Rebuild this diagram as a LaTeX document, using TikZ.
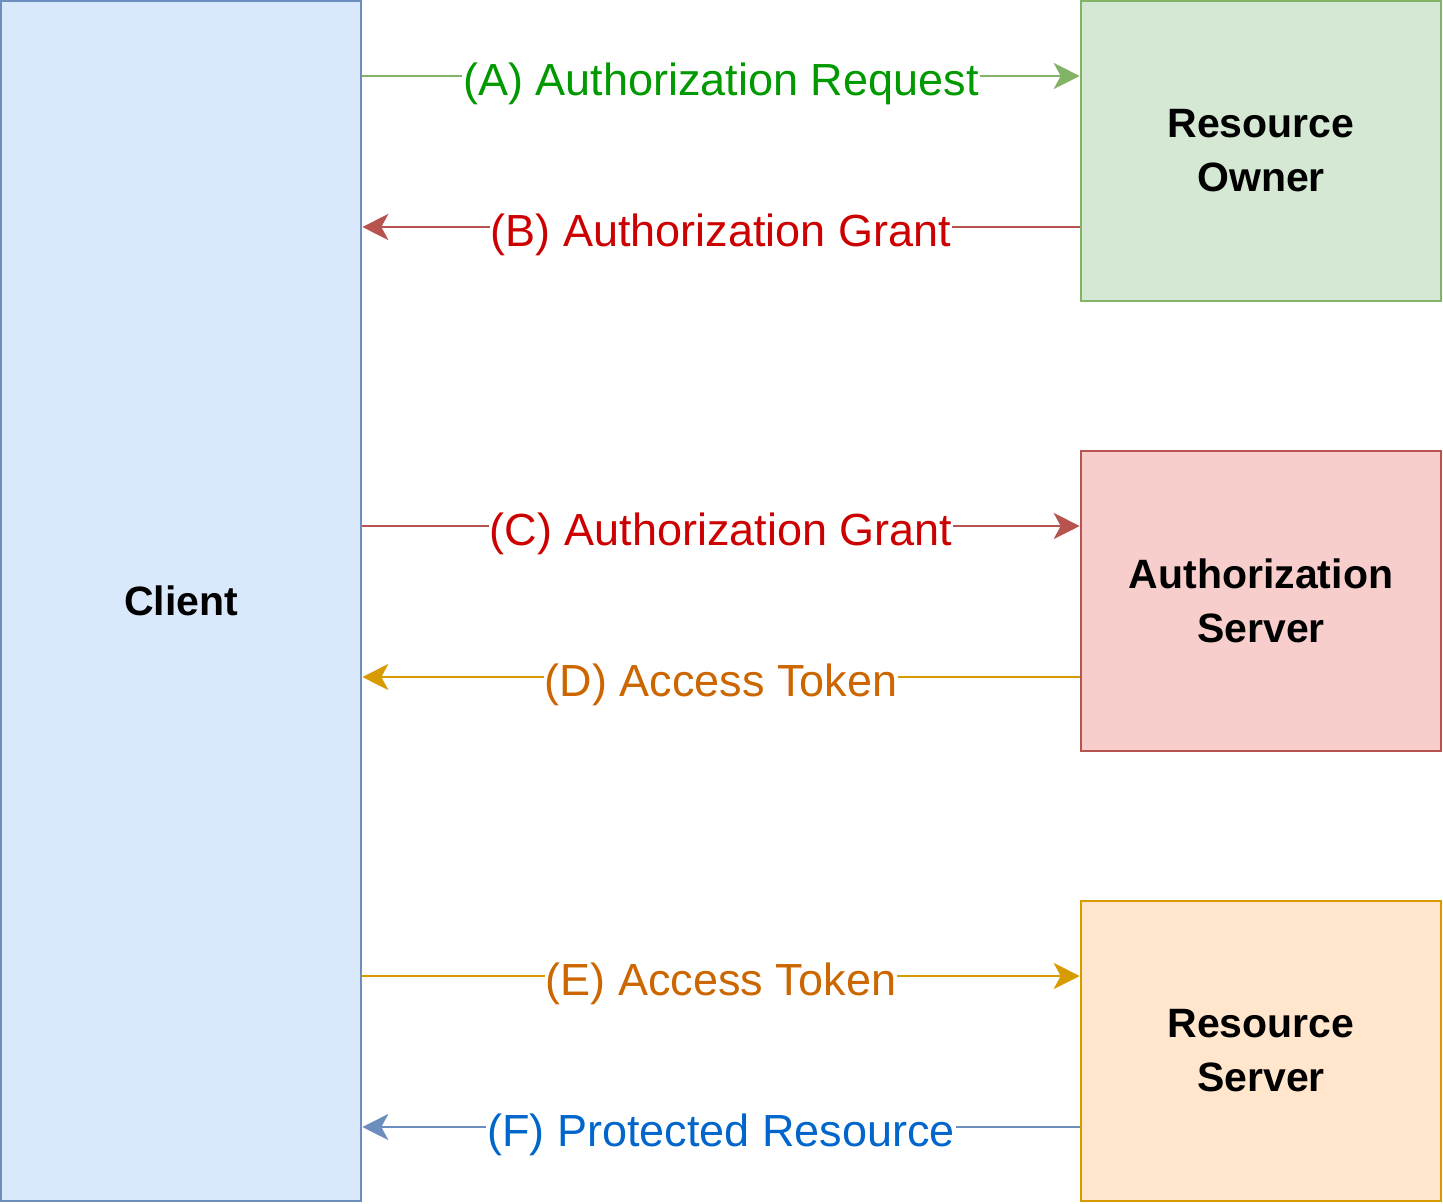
\documentclass[tikz,border=0pt]{standalone}
\usepackage{fontspec}
\setmainfont{Liberation Sans}
\usetikzlibrary{arrows.meta,calc}
\definecolor{cfill}{HTML}{DAE8FC}\definecolor{cline}{HTML}{6C8EBF}
\definecolor{gfill}{HTML}{D5E8D4}\definecolor{gline}{HTML}{82B366}
\definecolor{rfill}{HTML}{F8CECC}\definecolor{rline}{HTML}{B85450}
\definecolor{ofill}{HTML}{FFE6CC}\definecolor{oline}{HTML}{D79B00}
\definecolor{gtext}{HTML}{009900}\definecolor{rtext}{HTML}{CC0000}
\definecolor{otext}{HTML}{CC6600}\definecolor{btext}{HTML}{0066CC}
\begin{document}
\begin{tikzpicture}[x=1pt,y=-1pt,
  box/.style={draw,line width=2.6pt,rectangle,minimum width=360pt,align=center,
    font=\fontsize{41}{54}\selectfont\bfseries},
  flow/.style={line width=2.4pt,-{Stealth[length=26pt,width=26pt,inset=7pt]}},
  lbl/.style={fill=white,inner sep=1pt,yshift=-8pt,font=\fontsize{45}{50}\selectfont}]
\useasboundingbox (0,0) rectangle (1443,1203);
\node[box,fill=cfill,draw=cline,minimum height=1200pt] (client) at (181,601) {Client};
\node[box,fill=gfill,draw=gline,minimum height=300pt] (ro) at (1261,151) {Resource\\Owner};
\node[box,fill=rfill,draw=rline,minimum height=300pt] (as) at (1261,601) {Authorization\\Server};
\node[box,fill=ofill,draw=oline,minimum height=300pt] (rs) at (1261,1051) {Resource\\Server};
% A
\draw[flow,gline] ($(ro.west -| client.east)+(0,-75)$) -- node[lbl,text=gtext]{(A) Authorization Request} ($(ro.west)+(0,-75)$);
% B
\draw[flow,rline] ($(ro.west)+(0,76)$) -- node[lbl,text=rtext]{(B) Authorization Grant} ($(ro.west -| client.east)+(0,76)$);
% C
\draw[flow,rline] ($(as.west -| client.east)+(0,-75)$) -- node[lbl,text=rtext]{(C) Authorization Grant} ($(as.west)+(0,-75)$);
% D
\draw[flow,oline] ($(as.west)+(0,76)$) -- node[lbl,text=otext]{(D) Access Token} ($(as.west -| client.east)+(0,76)$);
% E
\draw[flow,oline] ($(rs.west -| client.east)+(0,-75)$) -- node[lbl,text=otext]{(E) Access Token} ($(rs.west)+(0,-75)$);
% F
\draw[flow,cline] ($(rs.west)+(0,76)$) -- node[lbl,text=btext]{(F) Protected Resource} ($(rs.west -| client.east)+(0,76)$);
\end{tikzpicture}
\end{document}
